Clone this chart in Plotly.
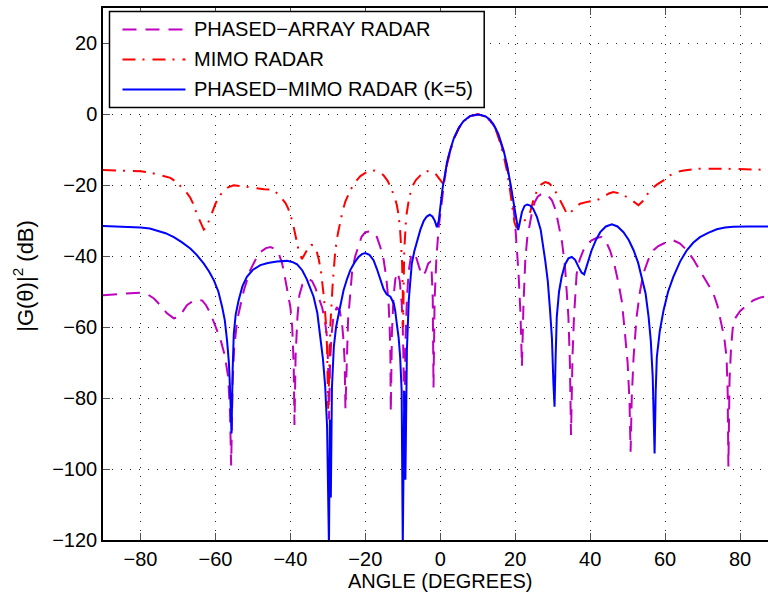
import plotly.graph_objects as go

# ---------------- data ----------------
pa_x = [-90, -87, -84, -80, -78, -76.4, -74.5, -73, -71.1, -70, -69, -67.6, -66, -64.9, -63.5, -62.5, -61.3,
        -59.6, -58.5, -57.5, -56.6, -56.1, -55.8, -55.4, -55.0, -54.2, -53.2, -52.4, -50.7, -49.3, -48, -46.5,
        -45.3, -44.2, -43.1, -42.2, -41.3, -40.5, -40, -39.5, -39.1, -38.9, -38.6, -38.1, -37.6, -36.8, -36,
        -35, -34.2, -33.3, -32.4, -31.5, -30.8, -30.2, -29.9, -29.7, -29.4, -29, -28.5, -27.6, -26.8, -26.2,
        -25.8, -25.5, -25.3, -25.0, -24.6, -24, -23.5, -22.7, -22, -21, -20, -19, -18, -16.9, -16, -15.1,
        -14.4, -13.8, -13.5, -13.3, -13.2, -12.9, -12.5, -12, -11.4, -10.8, -10.3, -10.0, -9.8, -9.6, -9.3,
        -8.9, -8.4, -7.8, -7.2, -6.5, -5.8, -4.9, -4.0, -3.2, -2.7, -2.3, -2.0, -1.8, -1.5, -1.0, -0.4, 0.3,
        1.0, 1.8, 2.7, 3.6, 5, 6.2, 8, 10, 12, 13.5, 14.7, 16, 17, 17.9, 18.7, 19.4, 20, 20.5, 20.9, 21.4,
        21.8, 22.2, 22.7, 23.2, 23.8, 24.5, 25.2, 26, 27, 27.6, 28.5, 29.8, 30.8, 31.6, 32.5, 33.3, 33.8,
        34.2, 34.6, 34.9, 35.3, 35.7, 36.4, 37.2, 38.2, 39.2, 40.4, 41.8, 43.1, 44.2, 45.3, 46.5, 47.6, 48.5,
        49.3, 50.0, 50.5, 50.8, 51.1, 51.6, 52.4, 53.3, 54.2, 55.5, 56.9, 58.2, 59.6, 61, 62.2, 64, 65.8,
        67.5, 69.3, 71, 72.9, 74, 75.1, 75.8, 76.4, 76.7, 76.9, 77.2, 77.6, 78.2, 79, 80, 81.8, 83.6, 85.5,
        87.6, 90]
pa_y = [-51.0, -50.7, -50.5, -50.3, -50.8, -51.9, -54, -56, -57.5, -57.2, -56, -53.8, -52.6, -52.2, -52.5,
        -53.8, -56.2, -60.8, -64, -68, -74, -84, -99, -75, -66, -58, -53, -49.6, -43.9, -41, -38.8, -37.7,
        -37.4, -37.9, -39.2, -42, -46.8, -51, -54.3, -60, -71, -87.6, -68, -57, -51, -48, -47, -46.5, -47,
        -49, -52, -54.5, -58, -63, -72, -86, -70, -62, -57, -54.3, -55.5, -59, -64, -70, -83, -68, -58,
        -50.5, -44, -40, -37.5, -34.5, -33.2, -33, -33.2, -34.6, -37.4, -41, -46, -53, -60, -68, -84, -62,
        -52, -46.5, -44.5, -47, -53, -60, -70, -90, -65, -52, -44, -40, -39, -40, -42.5, -45.5, -44.5, -42,
        -41.6, -44, -52, -77, -52, -40, -31.7, -25, -19.5, -13.5, -9.8, -6.8, -3.8, -2.0, -0.5, 0, -0.6,
        -2.0, -3.8, -7.5, -11, -15, -20, -25, -31, -38, -45, -56, -71, -54, -41, -35, -31, -27.5, -24.8,
        -23.2, -22.4, -22.3, -22.6, -24.2, -27, -30.8, -36, -43, -50, -57, -70, -90.4, -68, -57, -45, -41,
        -38.3, -36.6, -35.5, -34.8, -34.6, -35.8, -38.3, -42.5, -47.7, -53, -61.8, -70, -80.6, -95.1, -80,
        -68.4, -57.1, -50, -44.9, -41, -38.3, -37.1, -36.4, -35.8, -35.5, -36.4, -38.3, -40.8, -43.9, -47,
        -50.5, -54, -59, -63, -68.4, -78, -99.3, -75, -66, -58.5, -57, -55.5, -53.8, -52.4, -51.6, -51.1,
        -50.9]

mimo_x = [-90, -85, -80, -77.5, -75.6, -73.5, -72, -70.5, -69.3, -68, -66.7, -65.8, -65, -64, -63.1, -62.4,
          -61.8, -61, -60, -59, -57.8, -56.5, -55.1, -53.8, -52.4, -50.5, -49, -47, -45.3, -44, -43, -42.2,
          -41.3, -40.6, -40, -39.5, -39.1, -38.5, -37.8, -36.9, -36.2, -35.1, -34.4, -33.8, -33, -32.4, -31.8,
          -31.4, -31, -30.5, -30.2, -29.9, -29.6, -29.3, -28.7, -28, -27.3, -26.7, -26, -25.3, -24, -22.7,
          -21.3, -20, -18.7, -17.5, -16.2, -15.1, -14, -12.9, -12.2, -11.6, -11.1, -10.7, -10.4, -10.2, -10.0,
          -9.9, -9.75, -9.6, -9.1, -8.4, -7.6, -6.5, -5.3, -4.2, -3.1, -2.2, -1.3, -0.5, 0.3, 0.8, 1.3, 1.8,
          2.7, 3.6, 5, 6.2, 8, 10, 12, 13.5, 14.7, 16, 17, 17.9, 18.7, 19.3, 19.8, 20.3, 21, 22, 23, 24, 24.6,
          25.1, 26, 27, 28, 29, 30.3, 31.6, 32.7, 33.8, 34.6, 35.5, 37.3, 39.5, 41.8, 43.5, 45, 46.2, 47.5,
          49, 49.8, 51.5, 52.9, 54, 55, 56, 57.8, 59.6, 61.3, 63.1, 65, 67, 69.3, 75, 80, 87.6, 90]
mimo_y = [-15.7, -15.8, -16.0, -16.4, -16.9, -17.4, -17.9, -19, -20.2, -21.6, -23.5, -25.5, -28, -30.5, -32.5,
          -31.8, -30.3, -28, -25.2, -23.2, -21.4, -20.5, -20, -20.1, -20.3, -20.6, -20.9, -21.1, -21.2, -21.8,
          -22.8, -23.8, -25, -26.5, -28.2, -30, -31.8, -35, -38.3, -40.8, -39.5, -37.4, -36.8, -36.9, -38.5,
          -41, -44.5, -47.7, -52, -59, -66, -83, -66, -59, -47.7, -38.3, -33.5, -30, -27, -24.5, -21.4, -19.1,
          -17.4, -16.5, -16, -15.8, -16.2, -17.2, -18.8, -21.4, -23.2, -25.5, -28.5, -32.7, -37, -41.5, -50,
          -60, -47, -38.3, -28.9, -24.2, -20.6, -18.5, -17.2, -16.3, -15.9, -16, -16.7, -17.8, -19.2, -19.6,
          -17.5, -14.2, -10.3, -7, -3.8, -2, -0.5, 0, -0.6, -2.1, -4, -8, -12, -16.5, -22, -27, -30.5, -31.8,
          -31, -30.3, -29.5, -27.5, -25, -23.3, -21.2, -19.7, -19.1, -19.4, -20.8, -23.3, -25.7, -28, -27.9,
          -26.8, -25.2, -24.6, -24.2, -23.3, -22.3, -21.9, -22.2, -22.9, -23.3, -24.5, -25.6, -24.5, -22.8,
          -21.4, -19.8, -18.6, -17.2, -16.2, -15.8, -15.5, -15.3, -15.3, -15.5, -15.6, -15.7]

pm_x = [-90, -85, -80, -77.5, -75.6, -73.3, -71.1, -69, -66.7, -65, -63.1, -61.7, -60.4, -59.2, -58.2, -57.5,
        -56.9, -56.4, -56.0, -55.7, -55.4, -55.1, -54.6, -53.8, -52.8, -51.6, -50, -48, -46, -43.6, -40.9,
        -39.5, -38.2, -36.8, -35.6, -34.6, -33.8, -32.8, -32, -31.3, -30.7, -30.2, -29.7, -29.45, -29.2,
        -28.9, -28.4, -27.8, -27.1, -25.8, -24.9, -24, -22.9, -21.8, -20.9, -20, -18.9, -17.8, -16.9, -16,
        -15.1, -14.3, -13.3, -12.4, -12, -11.6, -11.1, -10.7, -10.3, -10.0, -9.6, -9.3, -9.1, -8.9, -8.4,
        -7.6, -6.9, -6.2, -5.3, -4.4, -3.6, -2.8, -2.1, -1.5, -0.9, -0.4, 0, 0.6, 1.3, 1.8, 2.7, 3.6, 5, 6.2,
        8, 10.2, 12, 13.2, 14.2, 15.5, 16.9, 17.8, 18.7, 19.4, 20, 20.5, 20.8, 21.2, 21.8, 22.5, 23.2, 24,
        24.8, 25.8, 26.8, 28, 28.7, 29.3, 29.8, 30.2, 30.5, 30.8, 31.1, 31.7, 32.4, 33.3, 34.2, 35.1, 36,
        36.9, 37.7, 38.4, 39, 39.6, 40.4, 41.5, 42.7, 44.2, 45.8, 47.3, 48.9, 50.3, 51.6, 52.8, 53.8, 54.8,
        55.6, 56.2, 56.7, 57.0, 57.2, 57.5, 57.8, 58.6, 59.6, 60.8, 62.2, 64, 65.8, 67.5, 69.3, 71.5, 73.8,
        76, 78.2, 82, 87.6, 90]
pm_y = [-31.5, -31.6, -31.9, -32.2, -32.7, -33.5, -34.6, -36, -37.8, -39.6, -42.1, -44.3, -46.8, -50, -54.3,
        -58, -63.7, -70, -80, -90, -72, -62, -56.5, -52.4, -48.5, -45.8, -43.8, -42.5, -41.9, -41.5, -41.3,
        -41.6, -42.3, -44, -46.5, -49, -51.4, -56, -62.7, -69, -76.8, -88, -122, -86, -108, -77, -65.5,
        -60, -56.2, -49.6, -46.5, -43.9, -41.8, -40.2, -39.4, -39.1, -39.6, -41.1, -43.6, -46.5, -49.3,
        -50.7, -51.4, -53.3, -55.5, -59, -63, -68.4, -78, -122, -78, -103, -80, -66.5, -52.4, -42.1, -38.5,
        -35.5, -32.5, -30, -28.8, -28.3, -28.8, -29.9, -31.8, -30, -26, -21, -16.7, -13.5, -9.9, -6.8, -3.7,
        -1.9, -0.4, 0, -0.5, -1.4, -2.8, -5.5, -10.1, -14.2, -19.3, -23.5, -27.5, -31, -32.6, -30.6, -27.5,
        -25.8, -25.4, -25.7, -26.6, -28.9, -32.5, -41.1, -47, -55.2, -63, -75.8, -82.4, -68, -57.1, -50,
        -45.8, -42.3, -40.6, -40.2, -41, -43, -44.6, -45.1, -43.2, -40.8, -38.3, -35.5, -33.2, -31.6, -31,
        -31.6, -33.2, -35.4, -38.3, -41.8, -45.8, -50.5, -57.1, -64, -74, -85, -95.6, -78, -68.4, -61,
        -55.2, -50, -45.8, -41.5, -38.3, -36.2, -34.6, -33.4, -32.4, -31.9, -31.7, -31.6, -31.6, -31.6]

series_names = ["PHASED\u2212ARRAY RADAR", "MIMO RADAR", "PHASED\u2212MIMO RADAR (K=5)"]
x_ticks = [-80, -60, -40, -20, 0, 20, 40, 60, 80]
y_ticks = [-120, -100, -80, -60, -40, -20, 0, 20]

# ---------------- styling ----------------
W, H = 768, 598
L, R, T, B = 102.5, 0, 7.5, 58
PW, PH = W - L - R, H - T - B
FONT = "Liberation Sans, Arial, sans-serif"
colors = ["#bf00bf", "#ff0000", "#0000ff"]
dashes = ["14px,9px", "13px,7px,2px,8px", "solid"]
x_right = -90 + PW / 3.75


def pxx(sx):
    return (sx - L) / PW


def pxy(sy):
    return (H - B - sy) / PH


fig = go.Figure()
for xs, ys, name, c, d in zip([pa_x, mimo_x, pm_x], [pa_y, mimo_y, pm_y], series_names, colors, dashes):
    fig.add_trace(go.Scatter(x=xs, y=ys, mode="lines", name=name, showlegend=False,
                             line=dict(color=c, width=2, dash=d)))

fig.update_layout(
    width=W, height=H, margin=dict(l=L, r=R, t=T, b=B, pad=0),
    paper_bgcolor="white", plot_bgcolor="white",
    font=dict(family=FONT, size=20, color="black"),
)
fig.update_xaxes(range=[-90, x_right], tickvals=x_ticks, ticks="inside", ticklen=7, tickcolor="#555",
                 showline=True, linecolor="black", linewidth=1.5, mirror="ticks",
                 showgrid=True, gridcolor="#222", gridwidth=1, griddash="1px,8px",
                 zeroline=False, ticklabelstandoff=0, tickfont=dict(size=20, family=FONT))
fig.update_yaxes(range=[-120, 30], tickvals=y_ticks, ticks="inside", ticklen=7, tickcolor="#555",
                 showline=True, linecolor="black", linewidth=1.5, mirror=False,
                 showgrid=True, gridcolor="#222", gridwidth=1, griddash="1px,8px",
                 zeroline=False, ticklabelstandoff=0, tickfont=dict(size=20, family=FONT))

# axis titles
fig.add_annotation(x=0, xref="x", y=pxy(581), yref="paper", text="ANGLE (DEGREES)", showarrow=False,
                   xanchor="center", yanchor="middle", font=dict(size=20, family=FONT))
fig.add_annotation(x=pxx(23), xref="paper", y=pxy(276), yref="paper", text="|G(\u03b8)|<sup>2</sup> (dB)",
                   showarrow=False, textangle=-90, xanchor="center", yanchor="middle",
                   font=dict(size=22, family=FONT))

# legend box (drawn)
fig.add_shape(type="rect", xref="paper", yref="paper", x0=pxx(109), x1=pxx(484), y0=pxy(107), y1=pxy(11),
              line=dict(color="black", width=1.5), fillcolor="white", layer="above")
for i, (name, c, d) in enumerate(zip(series_names, colors, dashes)):
    yy = 29 + 30 * i
    fig.add_shape(type="line", xref="paper", yref="paper", x0=pxx(122), x1=pxx(185), y0=pxy(yy), y1=pxy(yy),
                  line=dict(color=c, width=2, dash=d), layer="above")
    fig.add_annotation(x=pxx(192), xref="paper", y=pxy(yy), yref="paper", text=name, showarrow=False,
                       xanchor="left", yanchor="middle", font=dict(size=20, family=FONT))

# remove the browser's default 8 px page margin so the figure fills the window exactly
fig.write_html("out.html", config={"displayModeBar": False},
               post_script="document.body.style.margin='0px';")
